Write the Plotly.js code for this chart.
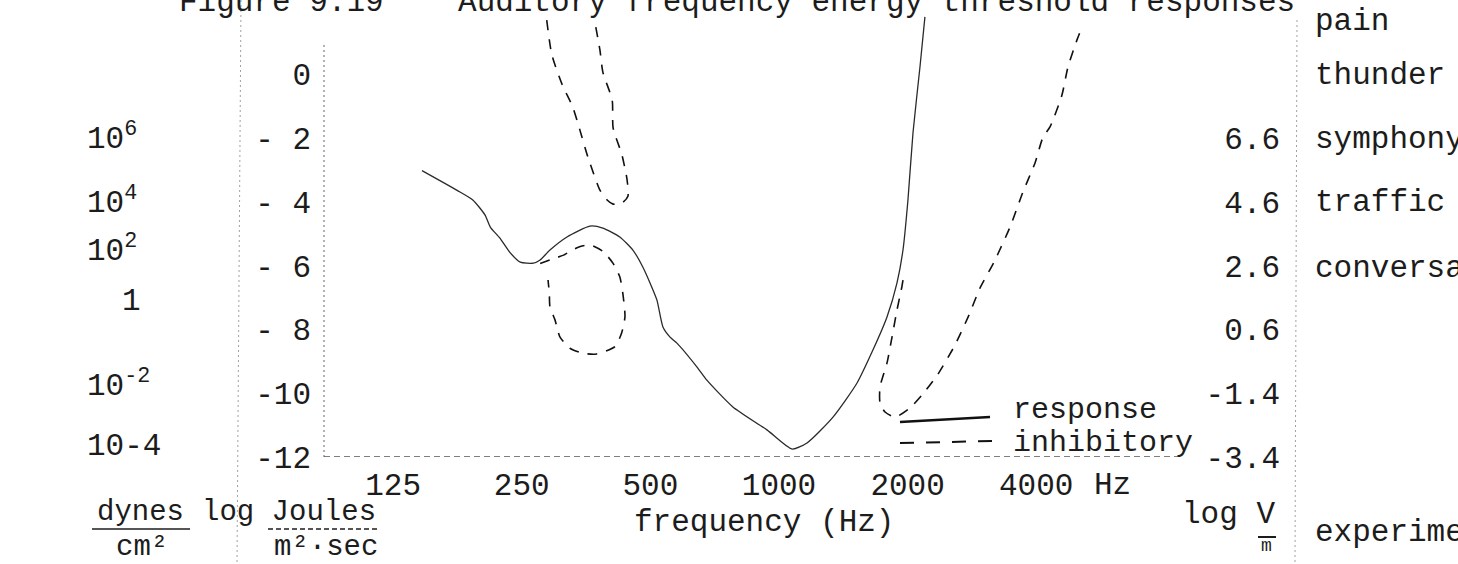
<!DOCTYPE html>
<html><head><meta charset="utf-8">
<script src="https://cdn.plot.ly/plotly-3.0.1.min.js"></script>
<style>html,body{margin:0;padding:0;background:#fff;}#chart{width:1458px;height:564px;}</style>
</head><body><div id="chart"></div>
<script>
// ---------- data ----------
const freqTicks = [125, 250, 500, 1000, 2000, 4000];
const freqTickText = ["125", "250", "500", "1000", "2000", "4000"];
const freqUnit = "Hz";
const joulesTicks = [0, -2, -4, -6, -8, -10, -12];
const joulesTickText = ["0", "- 2", "- 4", "- 6", "- 8", "-10", "-12"];
const fieldTicks = [6.6, 4.6, 2.6, 0.6, -1.4, -3.4];
const fieldTickText = ["6.6", "4.6", "2.6", "0.6", "-1.4", "-3.4"];
const pressureLabels = ["10<sup>6</sup>", "10<sup>4</sup>", "10<sup>2</sup>", "1", "10<sup>-2</sup>", "10-4"];
const pressureRows = [-1.95, -3.97, -5.48, -7.11, -9.71, -11.66];
const sourceLabels = ["pain", "thunder", "symphony", "traffic", "conversation"];
const sourceRows = [1.66, -0.05, -2.03, -4.03, -6.1];
const legendLabels = ["response", "inhibitory"];

// response threshold (solid)
const responseFreq = [146, 176, 192, 205, 211, 222, 235, 248, 266, 276, 291, 319, 361, 387, 424, 455, 480, 499, 518, 535, 556, 577, 643, 678, 780, 937, 1073, 1163, 1338, 1523, 1660, 1790, 1889, 1951, 2004, 2059, 2138, 2196];
const responseLevel = [-3.02, -3.63, -3.94, -4.41, -4.79, -5.13, -5.60, -5.89, -5.92, -5.82, -5.51, -5.10, -4.76, -4.82, -5.10, -5.51, -6.04, -6.54, -7.08, -7.92, -8.24, -8.43, -9.18, -9.59, -10.43, -11.15, -11.75, -11.56, -10.75, -9.68, -8.64, -7.61, -6.54, -5.51, -3.94, -1.84, 0.23, 1.80];

// inhibitory thresholds (dashed)
const inhibLoopFreq = [276, 291, 313, 339, 361, 388, 409, 424, 431, 436, 428, 413, 374, 348, 324, 307, 299, 291, 290, 288];
const inhibLoopLevel = [-5.93, -5.82, -5.67, -5.42, -5.35, -5.56, -5.93, -6.35, -6.87, -7.60, -8.12, -8.54, -8.77, -8.75, -8.59, -8.23, -7.70, -7.29, -6.87, -6.45];
const inhibUpperFreq = [286, 294, 311, 329, 342, 357, 381, 396, 409, 429, 443, 441, 429, 409, 407, 387, 381, 371];
const inhibUpperLevel = [1.70, 0.61, -0.33, -1.02, -1.75, -2.59, -3.63, -3.94, -4.07, -4.04, -3.82, -3.31, -2.53, -1.68, -0.81, 0.07, 0.76, 1.61];
const inhibHighFreq = [1951, 1937, 1889, 1839, 1790, 1724, 1724, 1771, 1869, 2026, 2161, 2356, 2582, 2784, 2955, 3186, 3474, 3725, 3975, 4150, 4309, 4596, 4747, 4984, 5120];
const inhibHighLevel = [-6.45, -6.70, -7.39, -8.24, -9.05, -9.80, -10.31, -10.59, -10.75, -10.46, -10.06, -9.40, -8.49, -7.55, -6.70, -5.89, -4.79, -3.69, -2.78, -1.97, -1.65, -0.65, 0.23, 1.08, 1.48];

// ---------- layout helpers ----------
const FONT = "Liberation Mono, Courier New, monospace";
const FS = 31;
const INK = "#1c1c1c";
const L = 324, T = 15, W = 976, H = 442;
const PX = p => (p - L) / W;
const PY = p => (T + H - p) / H;
const txt = (text, x, y, opt = {}) => Object.assign({
  text: text, xref: "paper", yref: "paper", x: PX(x), y: PY(y),
  xanchor: "left", yanchor: "middle", showarrow: false,
  font: {family: FONT, size: FS, color: INK}
}, opt);
const small = {family: FONT, size: 29, color: INK};

const dashStyle = {color: "#111", width: 1.6, dash: "10px,9px", shape: "spline", smoothing: 0.6};
const traces = [
  {x: responseFreq, y: responseLevel, mode: "lines", name: "response",
   line: {color: "#2a2a2a", width: 1.3, shape: "spline", smoothing: 0.6}, showlegend: false, hoverinfo: "skip"},
  {x: inhibLoopFreq, y: inhibLoopLevel, mode: "lines", name: "inhibitory", line: dashStyle, showlegend: false, hoverinfo: "skip"},
  {x: inhibUpperFreq, y: inhibUpperLevel, mode: "lines", name: "inhibitory", line: dashStyle, showlegend: false, hoverinfo: "skip"},
  {x: inhibHighFreq, y: inhibHighLevel, mode: "lines", name: "inhibitory", line: dashStyle, showlegend: false, hoverinfo: "skip"},
  // carrier for the log V/m scale (nothing visible)
  {x: [freqTicks[0]], y: [fieldTicks[0]], yaxis: "y2", mode: "markers", marker: {opacity: 0, size: 1},
   showlegend: false, hoverinfo: "skip"}
];

const annotations = [];
annotations.push(txt("Figure 9.19\u00a0\u00a0\u00a0\u00a0Auditory frequency energy threshold responses", 177, 2));
pressureLabels.forEach((t, i) => annotations.push(Object.assign(txt(t, t === "1" ? 120 : 85, 0), {yref: "y", y: pressureRows[i]})));
sourceLabels.forEach((t, i) => annotations.push(Object.assign(txt(t, 1313, 0), {yref: "y", y: sourceRows[i]})));
annotations.push(txt("experiment", 1313, 532));
annotations.push(txt(legendLabels[0], 1011, 410, {font: {family: FONT, size: 30, color: INK}}));
annotations.push(txt(legendLabels[1], 1011, 443, {font: {family: FONT, size: 30, color: INK}}));
annotations.push(txt(freqUnit, 1092, 485));
annotations.push(txt("frequency (Hz)", 764, 522, {xanchor: "center"}));
annotations.push(txt("dynes", 140, 512, {xanchor: "center", font: small}));
annotations.push(txt("cm\u00b2", 142, 547, {xanchor: "center", font: small}));
annotations.push(txt("log Joules", 200, 512, {font: small}));
annotations.push(txt("m\u00b2\u00b7sec", 326, 547, {xanchor: "center", font: small}));
annotations.push(txt("log V", 1180, 514));
annotations.push(txt("m", 1266, 546, {xanchor: "center", font: {family: FONT, size: 18, color: INK}}));

const gray = "#8a8a8a";
const shapes = [
  // plot frame pieces (typed dotted rules)
  {type: "line", xref: "paper", yref: "y", x0: 0, x1: 0, y0: -12, y1: 0.98, line: {color: gray, width: 1.3, dash: "2px,3px"}},
  {type: "line", xref: "paper", yref: "y", x0: 0, x1: PX(1180), y0: -12, y1: -12, line: {color: "#555", width: 1.4, dash: "6px,4px"}},
  // column dividers
  {type: "line", xref: "paper", yref: "paper", x0: PX(241), x1: PX(237), y0: PY(0), y1: PY(564), line: {color: "#a0a0a0", width: 1, dash: "2px,3px"}},
  {type: "line", xref: "paper", yref: "paper", x0: PX(1297), x1: PX(1295), y0: PY(20), y1: PY(564), line: {color: "#a0a0a0", width: 1, dash: "2px,3px"}},
  // legend samples
  {type: "line", xref: "paper", yref: "paper", x0: PX(900), x1: PX(990), y0: PY(422), y1: PY(417), line: {color: "#111", width: 2.4}},
  {type: "line", xref: "paper", yref: "paper", x0: PX(900), x1: PX(993), y0: PY(443), y1: PY(441), line: {color: "#111", width: 2, dash: "14px,12px"}},
  // fraction bars
  {type: "line", xref: "paper", yref: "paper", x0: PX(92), x1: PX(190), y0: PY(529), y1: PY(529), line: {color: INK, width: 1.3}},
  {type: "line", xref: "paper", yref: "paper", x0: PX(268), x1: PX(378), y0: PY(529), y1: PY(529), line: {color: INK, width: 1.3, dash: "5px,3px"}},
  {type: "line", xref: "paper", yref: "paper", x0: PX(1258), x1: PX(1276), y0: PY(537), y1: PY(537), line: {color: INK, width: 2}}
];

const layout = {
  width: 1458, height: 564,
  margin: {l: L, r: 1458 - L - W, t: T, b: 564 - T - H, pad: 0},
  paper_bgcolor: "#fff", plot_bgcolor: "#fff",
  showlegend: false,
  font: {family: FONT, size: FS, color: INK},
  xaxis: {type: "log", range: [1.935, 3.9387], domain: [0, PX(1180)],
          tickvals: freqTicks, ticktext: freqTickText, ticks: "", tickangle: 0, showgrid: false, zeroline: false,
          showline: false, ticklabelstandoff: 6, tickfont: {family: FONT, size: FS, color: INK}},
  yaxis: {range: [-12, 1.86], tickvals: joulesTicks, ticktext: joulesTickText, ticks: "",
          showgrid: false, zeroline: false, showline: false, ticklabelstandoff: 12,
          tickfont: {family: FONT, size: FS, color: INK}},
  yaxis2: {overlaying: "y", anchor: "free", side: "left", position: PX(1282),
           range: [-3.4, 10.46], tickvals: fieldTicks, ticktext: fieldTickText, ticks: "",
           showgrid: false, zeroline: false, showline: false, ticklabelstandoff: 2,
           tickfont: {family: FONT, size: FS, color: INK}},
  annotations: annotations,
  shapes: shapes
};

Plotly.newPlot("chart", traces, layout, {staticPlot: true, displayModeBar: false});
</script></body></html>
